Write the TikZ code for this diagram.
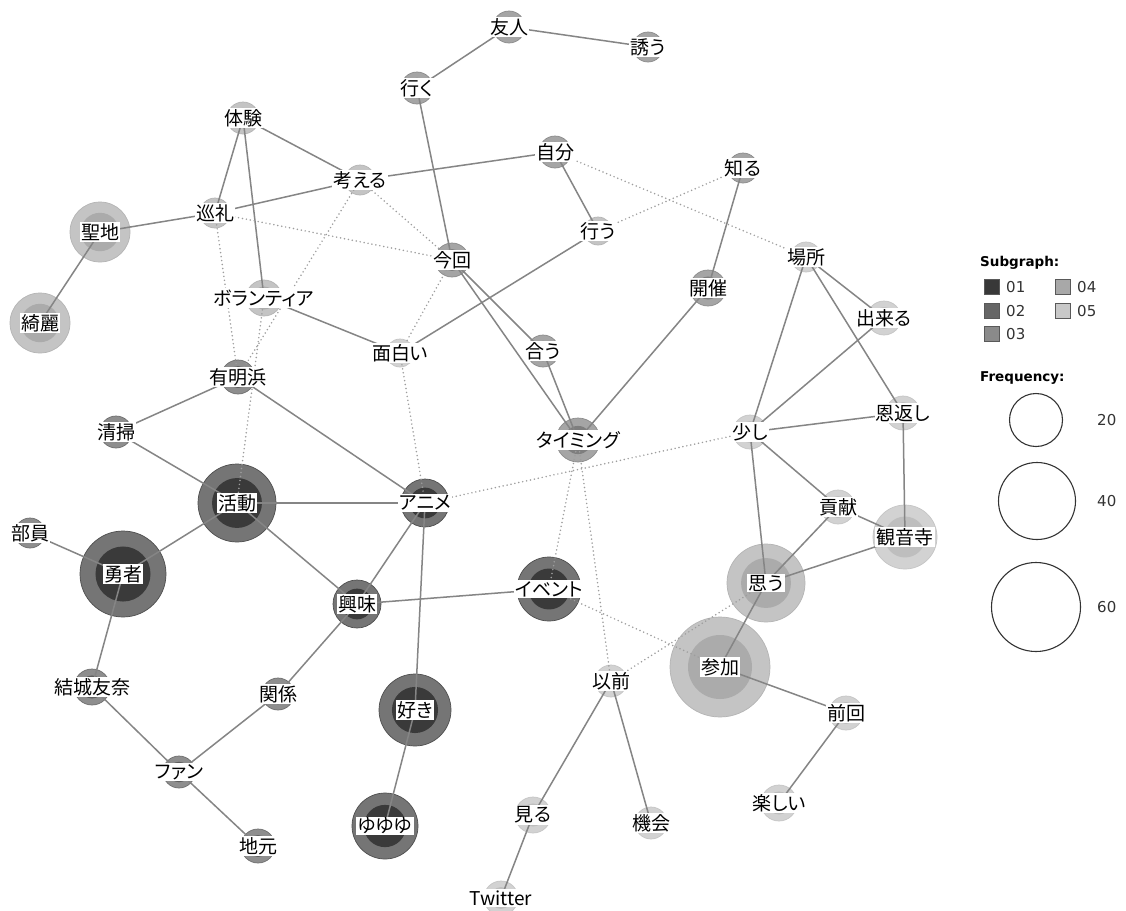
\documentclass[tikz,border=0pt]{standalone}
\usepackage{fontspec}
\setmainfont{DejaVu Sans}
\newfontfamily\jp[RawFeature={+palt}]{Noto Sans CJK JP}
\pgfdeclarelayer{ring}
\pgfdeclarelayer{links}
\pgfsetlayers{ring,links,main}
\definecolor{sgA}{HTML}{3A3A3A}
\definecolor{sgB}{HTML}{5E5E5E}
\definecolor{sgC}{HTML}{7E7E7E}
\definecolor{sgD}{HTML}{ABABAB}
\definecolor{sgE}{HTML}{BEBEBE}
\definecolor{lgA}{HTML}{383838}
\definecolor{lgB}{HTML}{666666}
\definecolor{lgC}{HTML}{8A8A8A}
\definecolor{lgD}{HTML}{A8A8A8}
\definecolor{lgE}{HTML}{C8C8C8}
\definecolor{lnk}{HTML}{858585}
\tikzset{
  lbl/.style={fill=white, inner sep=1.3pt, text=black, font=\jp\fontsize{19}{21}\selectfont},
  solidln/.style={draw=lnk, line width=1.5pt},
  dotln/.style={draw=lnk!80, line width=1.7pt, line cap=round, dash pattern=on 0pt off 4pt},
  sq/.style={draw=black!65, line width=0.6pt, minimum size=15pt, inner sep=0pt},
  lgtxt/.style={anchor=west, inner sep=0pt, font=\fontsize{15}{17}\selectfont, text=black!80},
  lghead/.style={anchor=west, inner sep=0pt, font=\bfseries\fontsize{13.5}{16}\selectfont},
  fcirc/.style={circle, draw=black!80, line width=1.1pt, inner sep=0pt}
}
\newcommand\kwnode[6]{%
  \coordinate (#1) at (#2,#3);
  \begin{pgfonlayer}{ring}
    \fill[#5!70!white] (#1) circle (#4 pt);
    \draw[#5!90!white, line width=0.7pt] (#1) circle (#4 pt);
    \fill[#5] (#1) circle ({0.64*#4 pt});
  \end{pgfonlayer}
  \node[lbl] (#1t) at (#1) {#6};
}
\begin{document}
\begin{tikzpicture}[x=1pt,y=-1pt]
\useasboundingbox (0,0) rectangle (1126,910);
\begin{pgfonlayer}{ring}
\fill[white] (0,0) rectangle (1126,910);
\end{pgfonlayer}
% nodes
\kwnode{yujin}{509}{27}{16}{sgC}{友人}
\kwnode{sasou}{648}{47}{15}{sgC}{誘う}
\kwnode{iku}{417}{88}{16}{sgC}{行く}
\kwnode{taiken}{243}{118}{16}{sgD}{体験}
\kwnode{kangaeru}{360}{180}{15}{sgD}{考える}
\kwnode{jibun}{555}{152}{16}{sgC}{自分}
\kwnode{shiru}{743}{168}{15}{sgC}{知る}
\kwnode{junrei}{215}{213}{15}{sgD}{巡礼}
\kwnode{seichi}{100}{232}{30}{sgD}{聖地}
\kwnode{okonau}{598}{231}{14}{sgD}{行う}
\kwnode{konkai}{452}{260}{17}{sgC}{今回}
\kwnode{basho}{806}{257}{15}{sgE}{場所}
\kwnode{kaisai}{708}{288}{18}{sgC}{開催}
\kwnode{volunteer}{264}{298}{18}{sgD}{ボランティア}
\kwnode{dekiru}{884}{318}{17}{sgE}{出来る}
\kwnode{kirei}{40}{323}{30}{sgD}{綺麗}
\kwnode{omoshiroi}{400}{353}{14}{sgE}{面白い}
\kwnode{au}{543}{351}{16}{sgC}{合う}
\kwnode{ariake}{238}{377}{17}{sgB}{有明浜}
\kwnode{ongaeshi}{903}{413}{17}{sgE}{恩返し}
\kwnode{sukoshi}{750}{432}{17}{sgE}{少し}
\kwnode{seisou}{116}{432}{16}{sgB}{清掃}
\kwnode{timing}{578}{440}{22}{sgC}{タイミング}
\kwnode{katsudou}{237}{503}{39}{sgA}{活動}
\kwnode{anime}{425}{503}{24}{sgA}{アニメ}
\kwnode{buin}{30}{533}{15}{sgB}{部員}
\kwnode{kouken}{838}{507}{17}{sgE}{貢献}
\kwnode{kanonji}{905}{537}{32}{sgE}{観音寺}
\kwnode{yusha}{123}{574}{43}{sgA}{勇者}
\kwnode{event}{549}{589}{32}{sgA}{イベント}
\kwnode{omou}{766}{583}{39}{sgD}{思う}
\kwnode{kyoumi}{357}{604}{24}{sgA}{興味}
\kwnode{sanka}{720}{667}{50}{sgD}{参加}
\kwnode{izen}{611}{681}{16}{sgE}{以前}
\kwnode{yuuki}{92}{687}{18}{sgB}{結城友奈}
\kwnode{kankei}{278}{694}{16}{sgB}{関係}
\kwnode{suki}{415}{710}{36}{sgA}{好き}
\kwnode{zenkai}{846}{713}{17}{sgE}{前回}
\kwnode{fan}{179}{772}{16}{sgB}{ファン}
\kwnode{tanoshii}{779}{803}{18}{sgE}{楽しい}
\kwnode{miru}{533}{815}{18}{sgE}{見る}
\kwnode{kikai}{651}{823}{16}{sgE}{機会}
\kwnode{yuyuyu}{385}{826}{33}{sgA}{ゆゆゆ}
\kwnode{jimoto}{258}{846}{17}{sgB}{地元}
\kwnode{twitter}{501}{898}{17}{sgE}{Twitter}
% links
\begin{pgfonlayer}{links}
\foreach \a/\b in {yujin/iku, yujin/sasou, iku/konkai, taiken/kangaeru, taiken/junrei,
  taiken/volunteer, kangaeru/junrei, kangaeru/jibun, junrei/seichi, seichi/kirei,
  jibun/okonau, okonau/omoshiroi, volunteer/omoshiroi, konkai/au, konkai/timing,
  au/timing, kaisai/timing, shiru/kaisai, ariake/seisou, ariake/anime, seisou/katsudou,
  katsudou/anime, katsudou/yusha, katsudou/kyoumi, buin/yusha, yusha/yuuki, yuuki/fan,
  fan/kankei, fan/jimoto, kankei/kyoumi, kyoumi/anime, kyoumi/event, anime/suki,
  suki/yuyuyu, basho/sukoshi, basho/dekiru, basho/ongaeshi, dekiru/sukoshi,
  sukoshi/ongaeshi, sukoshi/kouken, sukoshi/omou, ongaeshi/kanonji, kouken/omou,
  kouken/kanonji, omou/kanonji, omou/sanka, sanka/zenkai, zenkai/tanoshii,
  izen/miru, izen/kikai, miru/twitter}
  \draw[solidln] (\a) -- (\b);
\foreach \a/\b in {jibun/basho, shiru/okonau, junrei/konkai, kangaeru/konkai,
  junrei/ariake, kangaeru/ariake, volunteer/katsudou, konkai/omoshiroi,
  omoshiroi/anime, anime/sukoshi, timing/event, timing/izen, event/sanka, izen/omou}
  \draw[dotln] (\a) -- (\b);
\end{pgfonlayer}
% legend
\node[lghead] (sgh) at (980,263) {Subgraph:};
\node[sq, fill=lgA] (s1) at (992,287) {};
\node[sq, fill=lgB] (s2) at (992,311) {};
\node[sq, fill=lgC] (s3) at (992,334) {};
\node[sq, fill=lgD] (s4) at (1063,287) {};
\node[sq, fill=lgE] (s5) at (1063,311) {};
\node[lgtxt] (t1) at (1006,287) {01};
\node[lgtxt] (t2) at (1006,311) {02};
\node[lgtxt] (t3) at (1006,334) {03};
\node[lgtxt] (t4) at (1077,287) {04};
\node[lgtxt] (t5) at (1077,311) {05};
\node[lghead] (frh) at (980,378) {Frequency:};
\node[fcirc, minimum size=53pt] (f20) at (1036,420) {};
\node[fcirc, minimum size=77pt] (f40) at (1037,501) {};
\node[fcirc, minimum size=89pt] (f60) at (1036,607) {};
\node[lgtxt] (l20) at (1097,420) {20};
\node[lgtxt] (l40) at (1097,501) {40};
\node[lgtxt] (l60) at (1097,607) {60};
\end{tikzpicture}
\end{document}
